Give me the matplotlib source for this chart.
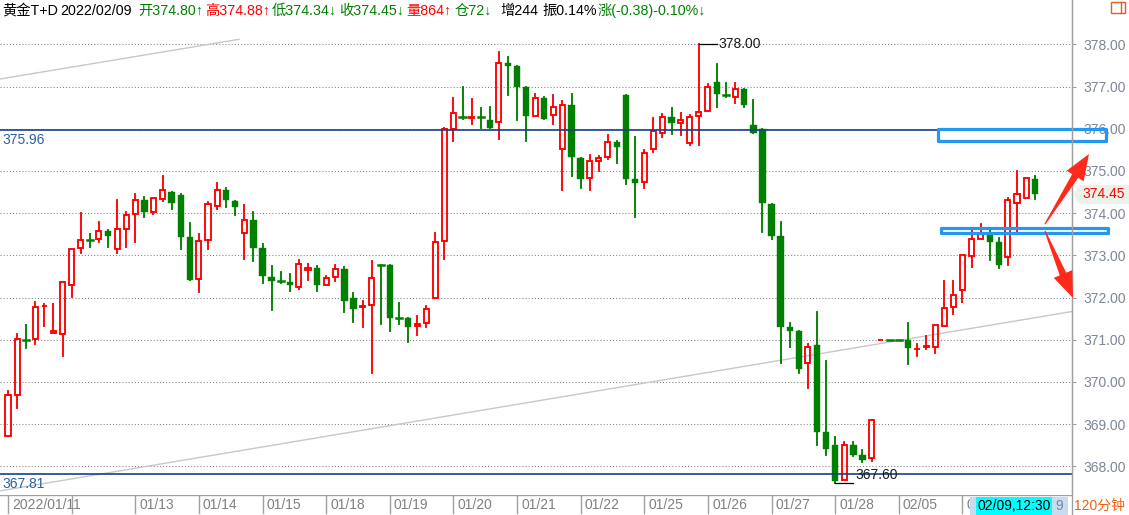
# -*- coding: utf-8 -*-
import matplotlib
matplotlib.use('Agg')
import matplotlib.pyplot as plt
from matplotlib.patches import Rectangle, Polygon
from matplotlib.lines import Line2D
import matplotlib.transforms as mtransforms

plt.rcParams['font.family'] = ['Liberation Sans', 'Noto Sans CJK SC', 'DejaVu Sans']

# 120 minute candles, 黄金T+D
opens = [368.72, 369.70, 371.00, 371.01, 371.79, 371.15, 371.13, 372.31, 373.17, 373.36,
         373.38, 373.58, 373.14, 373.63, 373.97, 374.31, 374.04, 374.33, 374.50, 374.43,
         373.43, 372.43, 373.36, 374.16, 374.55, 374.29, 373.52, 373.84, 373.18, 372.49,
         372.39, 372.37, 372.24, 372.65, 372.70, 372.31, 372.48, 372.68, 371.99, 371.78,
         371.82, 372.77, 372.77, 371.51, 371.51, 371.32, 371.39, 371.99, 373.33, 376.00,
         376.29, 376.25, 376.28, 376.21, 376.15, 377.55, 377.48, 376.98, 376.30, 376.73,
         376.33, 375.51, 376.56, 375.31, 374.83, 375.23, 375.32, 375.68, 376.79, 374.80,
         374.73, 375.51, 375.90, 376.28, 376.14, 375.67, 376.30, 376.42, 377.11, 376.79,
         376.76, 376.95, 376.08, 376.00, 374.21, 373.45, 371.30, 371.20, 370.45, 370.87,
         368.81, 368.51, 367.67, 368.51, 368.26, 368.19, 370.99, 371.00, 371.00, 370.99,
         370.77, 370.83, 370.83, 371.32, 371.77, 372.17, 372.98, 373.38, 373.48, 373.31,
         372.96, 374.23, 374.37, 374.80]
highs = [369.79, 371.14, 371.35, 371.90, 371.85, 371.85, 372.36, 373.14, 374.00, 373.51,
         373.79, 373.60, 374.31, 374.03, 374.45, 374.38, 374.35, 374.88, 374.50, 374.45,
         373.77, 373.51, 374.27, 374.72, 374.60, 374.29, 374.19, 374.03, 373.27, 372.75,
         372.61, 372.56, 372.89, 372.80, 372.75, 372.51, 372.77, 372.73, 372.11, 371.91,
         372.87, 372.77, 372.77, 371.86, 371.51, 371.56, 371.80, 373.53, 376.02, 376.73,
         377.00, 376.71, 376.49, 376.52, 377.81, 377.69, 377.48, 376.98, 376.82, 376.75,
         376.80, 376.66, 376.82, 375.31, 375.37, 375.35, 375.85, 375.70, 376.79, 375.80,
         375.49, 376.25, 376.35, 376.49, 376.37, 376.33, 378.00, 377.07, 377.54, 377.09,
         377.09, 376.95, 376.69, 376.00, 374.21, 373.79, 371.39, 371.20, 370.90, 371.66,
         370.49, 368.70, 368.58, 368.58, 368.38, 369.09, 371.00, 371.00, 371.00, 371.40,
         370.90, 371.08, 371.34, 372.39, 372.39, 373.00, 373.63, 373.74, 373.60, 373.42,
         374.35, 375.00, 374.83, 374.88]
lows = [368.72, 369.39, 370.81, 370.91, 371.33, 371.15, 370.62, 372.02, 373.06, 373.21,
        373.32, 373.21, 373.06, 373.21, 373.32, 373.92, 373.97, 374.30, 374.11, 373.14,
        372.42, 372.14, 373.16, 374.11, 374.15, 373.96, 372.92, 372.87, 372.35, 371.71,
        372.35, 372.16, 372.20, 372.42, 372.16, 372.31, 372.40, 371.67, 371.43, 371.31,
        370.22, 371.38, 371.21, 371.38, 370.95, 371.12, 371.31, 371.99, 372.92, 375.72,
        376.24, 376.12, 376.02, 376.02, 375.76, 376.79, 376.21, 375.72, 376.30, 376.24,
        376.12, 374.56, 374.87, 374.60, 374.56, 375.01, 375.28, 375.20, 374.68, 373.91,
        374.60, 375.44, 375.81, 375.87, 375.85, 375.61, 375.61, 376.41, 376.51, 376.76,
        376.62, 376.51, 375.91, 373.55, 373.40, 370.44, 370.84, 370.22, 369.86, 368.50,
        368.28, 367.60, 367.67, 368.24, 368.11, 368.12, 370.99, 370.99, 370.99, 370.43,
        370.62, 370.77, 370.68, 371.32, 371.62, 371.90, 372.72, 373.38, 372.89, 372.69,
        372.78, 373.55, 374.37, 374.34]
closes = [369.68, 371.01, 370.99, 371.78, 371.80, 371.22, 372.36, 373.14, 373.36, 373.35,
          373.57, 373.47, 373.62, 373.95, 374.31, 374.04, 374.35, 374.54, 374.23, 373.44,
          372.42, 373.33, 374.21, 374.54, 374.32, 374.15, 373.83, 373.18, 372.50, 372.40,
          372.38, 372.31, 372.79, 372.70, 372.31, 372.46, 372.67, 371.93, 371.74, 371.79,
          372.46, 372.76, 371.52, 371.50, 371.31, 371.37, 371.72, 373.31, 375.99, 376.38,
          376.28, 376.28, 376.25, 376.02, 377.57, 377.49, 376.99, 376.30, 376.72, 376.24,
          376.52, 376.56, 375.32, 374.82, 375.23, 375.30, 375.68, 375.58, 374.82, 374.72,
          375.42, 375.94, 376.28, 376.14, 376.21, 376.28, 376.40, 377.00, 376.83, 376.76,
          376.94, 376.56, 375.91, 374.23, 373.47, 371.31, 371.22, 370.31, 370.84, 368.82,
          368.42, 367.65, 368.50, 368.28, 368.16, 369.09, 371.00, 370.99, 370.99, 370.81,
          370.79, 370.85, 371.34, 371.75, 372.05, 373.00, 373.40, 373.53, 373.32, 372.77,
          374.31, 374.45, 374.83, 374.45]

day_ticks = [0, 7, 14, 21, 28, 35, 42, 49, 56, 63, 70, 77, 84, 91, 98, 105]
day_labels = ['2022/01/11', '', '01/13', '01/14', '01/15', '01/18', '01/19', '01/20',
              '01/21', '01/22', '01/25', '01/26', '01/27', '01/28', '02/05', '02']
price_ticks = [368, 369, 370, 371, 372, 373, 374, 375, 376, 377, 378]

levels = [375.96, 367.81]          # horizontal lines drawn on the chart
high_mark = (76, 378.00)           # 最高
low_mark = (91, 367.60)            # 最低
last_price = 374.45
trend_a = ([-0.88, 25.4], [377.18, 378.12])
trend_b = ([-0.88, 117.05], [367.42, 371.67])
zones = [(102.3, 120.8, 375.72, 375.99), (102.6, 121.0, 373.54, 373.64)]

header = [('黄金T+D', 'black', 2), ('2022/02/09', 'black', 60),
          ('开374.80↑', '#008000', 138), ('高374.88↑', '#ff0000', 205),
          ('低374.34↓', '#008000', 272), ('收374.45↓', '#008000', 339),
          ('量864↑', '#ff0000', 406), ('仓72↓', '#008000', 455),
          ('增244', 'black', 500), ('振0.14%', 'black', 542),
          ('涨(-0.38)-0.10%↓', '#008000', 598)]

W, H = 1129, 515
up = '#ff0000'
dn = '#008000'
fs = 10


def fx(x):
    return x / W


def fy(y):
    return 1 - y / H


fig = plt.figure(figsize=(W / 100, H / 100), dpi=100)
fig.patch.set_facecolor('white')

ax = fig.add_axes([0, fy(495), fx(1072), 495 / H])
ax.set_xlim(-0.88, 117.05)
ax.set_ylim(367.322, 379.052)
for s in ['top', 'left', 'bottom']:
    ax.spines[s].set_visible(False)
ax.spines['right'].set_color('#a0a0a0')
ax.yaxis.tick_right()
ax.set_yticks(price_ticks)
ax.set_yticklabels(['%.2f' % p for p in price_ticks])
ax.tick_params(axis='y', colors='#a0a0a0', labelcolor='#7d8696', length=3, pad=5, labelsize=fs)
ax.set_xticks([])

# grid
ax.hlines(price_ticks, -0.88, 117.05, colors='#808080', linestyles=(0, (1, 2)), lw=0.75, zorder=1)

# trend lines
ax.plot(trend_a[0], trend_a[1], color='#c8c8c8', lw=1, zorder=1.5)
ax.plot(trend_b[0], trend_b[1], color='#c8c8c8', lw=1, zorder=1.5)

# candles
bw_up = 0.56
bw_dn = 0.7
lw_c = 1.35
for i in range(len(opens)):
    o, h, l, c = opens[i], highs[i], lows[i], closes[i]
    if c > o:
        ax.add_patch(Rectangle((i - bw_up / 2, o), bw_up, c - o, fill=False,
                               edgecolor=up, lw=lw_c, zorder=3))
        if h > c:
            ax.plot([i, i], [c, h], color=up, lw=lw_c, zorder=3)
        if l < o:
            ax.plot([i, i], [l, o], color=up, lw=lw_c, zorder=3)
    else:
        ax.plot([i, i], [l, h], color=dn, lw=lw_c, zorder=3)
        if o - c < 0.04:
            ax.plot([i - bw_dn / 2, i + bw_dn / 2], [o, o], color=dn, lw=1.8, zorder=3)
        else:
            ax.add_patch(Rectangle((i - bw_dn / 2, c), bw_dn, o - c, facecolor=dn,
                                   edgecolor=dn, lw=0.3, zorder=3))

# level lines and their labels
blend = mtransforms.blended_transform_factory(ax.transAxes, ax.transData)
for lv in levels:
    ax.axhline(lv, color='#17408a', lw=1.2, zorder=4)
    ax.annotate('%.2f' % lv, xy=(0, lv), xycoords=blend, xytext=(2, -3),
                textcoords='offset pixels', va='top', ha='left', fontsize=fs,
                color='#2a5ea8', zorder=5)

# high / low marks
ax.plot([high_mark[0], high_mark[0] + 2], [high_mark[1], high_mark[1]], color='black', lw=0.9, zorder=4)
ax.text(high_mark[0] + 2.2, high_mark[1], '%.2f' % high_mark[1], va='center', ha='left',
        fontsize=fs, color='#1a1a1a', zorder=5)
ax.plot([low_mark[0], low_mark[0] + 2], [low_mark[1], low_mark[1]], color='black', lw=0.9, zorder=4)
ax.text(low_mark[0] + 2.2, low_mark[1] + 0.03, '%.2f' % low_mark[1], va='bottom', ha='left',
        fontsize=fs, color='#1a1a1a', zorder=5)

# zone boxes
for x0, x1, y0, y1 in zones:
    ax.add_patch(Rectangle((x0, y0), x1 - x0, y1 - y0, fill=False, edgecolor='#2298f2',
                           lw=2.3, joinstyle='round', clip_on=False, zorder=6))


# red arrows (pixel geometry)
def arrow(tail, tip, head_len=26, head_w=20, w0=1.2, w1=7):
    dx, dy = tip[0] - tail[0], tip[1] - tail[1]
    n = (dx * dx + dy * dy) ** 0.5
    ux, uy = dx / n, dy / n
    nx, ny = -uy, ux
    bx, by = tip[0] - ux * head_len, tip[1] - uy * head_len
    pts = [(tail[0] + nx * w0 / 2, tail[1] + ny * w0 / 2),
           (bx + nx * w1 / 2, by + ny * w1 / 2),
           (bx + nx * head_w / 2, by + ny * head_w / 2),
           tip,
           (bx - nx * head_w / 2, by - ny * head_w / 2),
           (bx - nx * w1 / 2, by - ny * w1 / 2),
           (tail[0] - nx * w0 / 2, tail[1] - ny * w0 / 2)]
    fig.patches.append(Polygon([(fx(x), fy(y)) for x, y in pts], closed=True,
                               transform=fig.transFigure, facecolor='#ff2a1a',
                               edgecolor='none', zorder=7))


arrow((1045, 224), (1089, 154))
arrow((1045, 231), (1073, 298))

# last price tag
tag = [(1073, 194), (1080, 185), (1129, 185), (1129, 204), (1080, 204)]
fig.patches.append(Polygon([(fx(x), fy(y)) for x, y in tag], closed=True,
                           transform=fig.transFigure, facecolor='#eaf2ea', edgecolor='none', zorder=2))
fig.text(fx(1082), fy(194), '%.2f' % last_price, color='#ff0000', fontsize=fs, va='center', ha='left', zorder=3)

# header
for txt, col, xp in header:
    fig.text(fx(xp), fy(11), txt, color=col, fontsize=10.3, va='center', ha='left')

# top right icon
fig.patches.append(Rectangle((fx(1111), fy(13)), fx(14), 11 / H, fill=False, edgecolor='#e06020',
                             lw=1, transform=fig.transFigure))
fig.lines.append(Line2D([fx(1121), fx(1121)], [fy(13), fy(2)], color='#e06020', lw=1,
                        transform=fig.transFigure))

# right border line
fig.lines.append(Line2D([fx(1072), fx(1072)], [0, 1], color='#a0a0a0', lw=1, transform=fig.transFigure))

# date bar
axb = fig.add_axes([0, 0, fx(1072), 20 / H])
axb.set_xlim(ax.get_xlim())
axb.set_ylim(0, 1)
axb.axis('off')
axb.axhline(1, color='#a0a0a0', lw=1)
for t, lab in zip(day_ticks, day_labels):
    axb.plot([t, t], [0.1, 1], color='#a0a0a0', lw=1)
    if lab:
        axb.text(t + 0.45, 0.5, lab, color='#808080', fontsize=fs, va='center', ha='left')

fig.patches.append(Rectangle((fx(970), 0), fx(98), 18 / H, facecolor='#c8dcf0', edgecolor='none',
                             transform=fig.transFigure, zorder=5))
fig.patches.append(Rectangle((fx(976), 0), fx(76), 18 / H, facecolor='#00ffff', edgecolor='none',
                             transform=fig.transFigure, zorder=6))
fig.text(fx(977), fy(506), '02/09,12:30', color='black', fontsize=fs, va='center', ha='left', zorder=7)
fig.text(fx(1055), fy(506), '9', color='#7d8696', fontsize=fs, va='center', ha='left', zorder=7)
fig.text(fx(1074), fy(506), '120分钟', color='#f06010', fontsize=fs, va='center', ha='left')

fig.savefig('out.png', dpi=100)
